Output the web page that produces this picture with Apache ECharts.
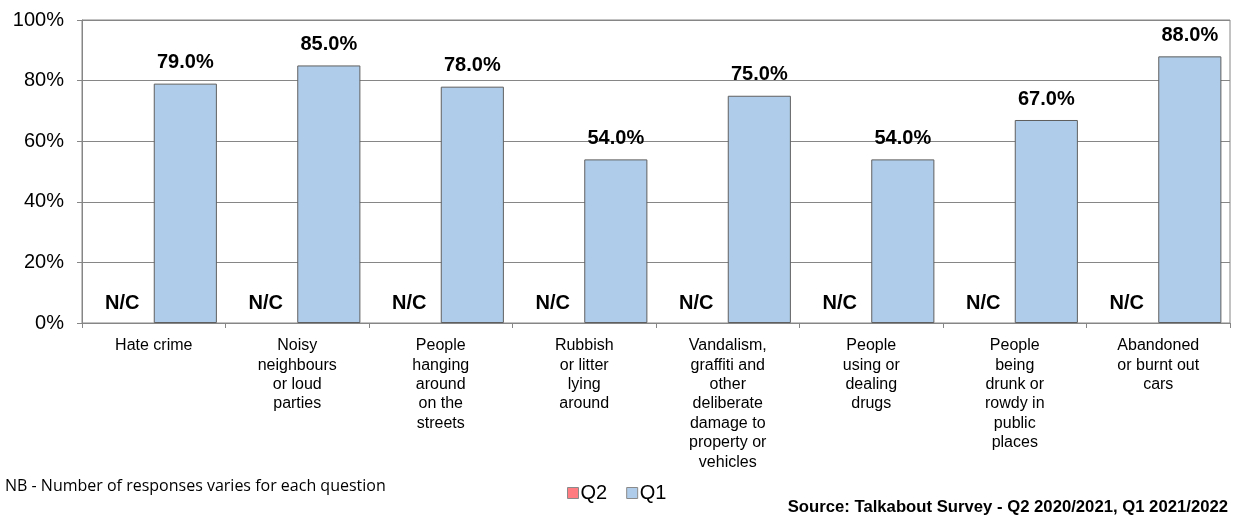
<!DOCTYPE html>
<html>
<head>
<meta charset="utf-8">
<script src="https://cdn.jsdelivr.net/npm/echarts@6/dist/echarts.min.js"></script>
<style>
html,body{margin:0;padding:0;background:#fff;}
#chart{width:1233px;height:517px;}
</style>
</head>
<body>
<div id="chart"></div>
<script>
const categories = [
  "Hate crime",
  "Noisy\nneighbours\nor loud\nparties",
  "People\nhanging\naround\non the\nstreets",
  "Rubbish\nor litter\nlying\naround",
  "Vandalism,\ngraffiti and\nother\ndeliberate\ndamage to\nproperty or\nvehicles",
  "People\nusing or\ndealing\ndrugs",
  "People\nbeing\ndrunk or\nrowdy in\npublic\nplaces",
  "Abandoned\nor burnt out\ncars"
];
const q2Values = [0, 0, 0, 0, 0, 0, 0, 0];
const q2Labels = ["N/C", "N/C", "N/C", "N/C", "N/C", "N/C", "N/C", "N/C"];
const q1Values = [79, 85, 78, 54, 75, 54, 67, 88];
const yTicks = [0, 20, 40, 60, 80, 100];

const chart = echarts.init(document.getElementById('chart'));
const font = '"Liberation Sans", Arial, sans-serif';
chart.setOption({
  animation: false,
  textStyle: {fontFamily: font},
  grid: {left: 82, right: 3, top: 20, bottom: 194, show: true, borderColor: '#868686', borderWidth: 1},
  legend: {
    data: [
      {name: 'Q2', itemStyle: {color: '#FF7C80', borderColor: '#8a8a8a', borderWidth: 1}},
      {name: 'Q1', itemStyle: {color: '#AFCDEA', borderColor: '#8a8a8a', borderWidth: 1}}
    ],
    left: 562, top: 478,
    itemWidth: 11, itemHeight: 11, itemGap: 19,
    textStyle: {fontSize: 20, color: '#000', fontFamily: font, padding: [0, 0, 0, -3]},
    icon: 'rect'
  },
  xAxis: {
    type: 'category',
    data: categories,
    axisLine: {lineStyle: {color: '#868686'}},
    axisTick: {show: true, length: 5, lineStyle: {color: '#868686'}},
    axisLabel: {color: '#000', fontSize: 16, lineHeight: 19.4, margin: 13, interval: 0, fontFamily: font}
  },
  yAxis: {
    type: 'value',
    min: yTicks[0], max: yTicks[yTicks.length - 1], interval: 20,
    axisLine: {show: true, lineStyle: {color: '#868686'}},
    axisTick: {show: true, length: 5, lineStyle: {color: '#868686'}},
    splitLine: {lineStyle: {color: '#868686'}},
    axisLabel: {color: '#000', fontSize: 20, margin: 18, formatter: v => v + '%', fontFamily: font}
  },
  series: [
    {
      name: 'Q2', type: 'bar', barWidth: '44%', barGap: '0%',
      data: q2Values,
      itemStyle: {color: '#FF7C80', borderColor: '#8a8a8a', borderWidth: 0},
      label: {show: true, position: 'top', distance: 10, fontSize: 20, fontWeight: 'bold', color: '#000',
        formatter: p => q2Labels[p.dataIndex]}
    },
    {
      name: 'Q1', type: 'bar', barWidth: '44%', barGap: '0%',
      data: q1Values,
      itemStyle: {color: '#AFCDEA', borderColor: '#5f5f5f', borderWidth: 1},
      label: {show: true, position: 'top', distance: 11, fontSize: 20, fontWeight: 'bold', color: '#000',
        formatter: p => p.value.toFixed(1) + '%'}
    }
  ],
  graphic: [
    {type: 'text', left: 5, top: 478, style: {text: 'NB - Number of responses varies for each question', font: '16px "Open Sans", "Noto Sans", sans-serif', fill: '#000'}},
    {type: 'text', right: 5, top: 499, style: {text: 'Source: Talkabout Survey - Q2 2020/2021, Q1 2021/2022', font: 'bold 16.7px ' + font, fill: '#000'}}
  ]
});
</script>
</body>
</html>
